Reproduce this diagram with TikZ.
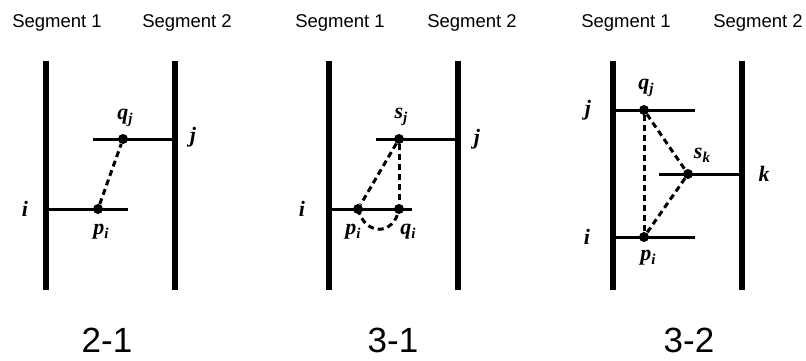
\documentclass[tikz,border=0pt]{standalone}
\usepackage{fontspec}
\setmainfont{Liberation Sans}
\newfontfamily\labfont{Liberation Serif}
\newcommand\lbl[2]{#1\raisebox{-0.4ex}{\fontsize{15}{15}\selectfont #2}}
\tikzset{
  bar/.style={line width=6.5pt},
  rung/.style={line width=3pt},
  link/.style={line width=3pt, dash pattern=on 6pt off 4pt},
  pt/.style={circle, fill=black, inner sep=0pt, minimum size=10pt},
  lab/.style={font=\labfont\bfseries\itshape\fontsize{22}{22}\selectfont, inner sep=0pt},
  seg/.style={font=\fontsize{18.5}{18.5}\selectfont, inner sep=0pt},
  figlabel/.style={font=\fontsize{35}{35}\selectfont, inner sep=0pt}
}
\begin{document}
\begin{tikzpicture}[x=1pt,y=-1pt]
\useasboundingbox (0,0) rectangle (806,361);
% ---------- Panel 2-1 ----------
\node[seg] (s11) at (57,23) {Segment 1};
\node[seg] (s12) at (187,23) {Segment 2};
\coordinate (aLt) at (46,61); \coordinate (aLb) at (46,290);
\coordinate (aRt) at (175,61); \coordinate (aRb) at (175,290);
\draw[bar] (aLt) -- (aLb);
\draw[bar] (aRt) -- (aRb);
\coordinate (aU0) at (93,139); \coordinate (aU1) at (175,139);
\coordinate (aD0) at (46,209); \coordinate (aD1) at (128,209);
\draw[rung] (aU0) -- (aU1);
\draw[rung] (aD0) -- (aD1);
\node[pt] (aq) at (123,139) {};
\node[pt] (ap) at (98,209) {};
\draw[link] (ap) -- (aq);
\node[lab] (aql) at (125,118) {\lbl{q}{j}};
\node[lab] (ajl) at (193,137) {j};
\node[lab] (ail) at (25,209) {i};
\node[lab] (apl) at (101,232) {\lbl{p}{i}};
\node[figlabel] (c1) at (107,340) {2-1};
% ---------- Panel 3-1 ----------
\node[seg] (s21) at (340,23) {Segment 1};
\node[seg] (s22) at (472,23) {Segment 2};
\coordinate (bLt) at (329,61); \coordinate (bLb) at (329,290);
\coordinate (bRt) at (458,61); \coordinate (bRb) at (458,290);
\draw[bar] (bLt) -- (bLb);
\draw[bar] (bRt) -- (bRb);
\coordinate (bU0) at (376,139); \coordinate (bU1) at (458,139);
\coordinate (bD0) at (329,209); \coordinate (bD1) at (412,209);
\draw[rung] (bU0) -- (bU1);
\draw[rung] (bD0) -- (bD1);
\node[pt] (bs) at (399,139) {};
\node[pt] (bp) at (358,209) {};
\node[pt] (bq) at (399,209) {};
\draw[link] (bs) -- (bp);
\draw[link] (bs) -- (bq);
\draw[link] (bp.center) .. controls (365,236) and (394,236) .. (bq.center);
\node[lab] (bsl) at (401,117) {\lbl{s}{j}};
\node[lab] (bjl) at (477,139) {j};
\node[lab] (bil) at (302,209) {i};
\node[lab] (bpl) at (353,232) {\lbl{p}{i}};
\node[lab] (bql) at (408,232) {\lbl{q}{i}};
\node[figlabel] (c2) at (393,340) {3-1};
% ---------- Panel 3-2 ----------
\node[seg] (s31) at (626,23) {Segment 1};
\node[seg] (s32) at (758,23) {Segment 2};
\coordinate (cLt) at (613,61); \coordinate (cLb) at (613,290);
\coordinate (cRt) at (742,61); \coordinate (cRb) at (742,290);
\draw[bar] (cLt) -- (cLb);
\draw[bar] (cRt) -- (cRb);
\coordinate (cJ0) at (613,110); \coordinate (cJ1) at (695,110);
\coordinate (cK0) at (659,174); \coordinate (cK1) at (742,174);
\coordinate (cI0) at (613,237); \coordinate (cI1) at (695,237);
\draw[rung] (cJ0) -- (cJ1);
\draw[rung] (cK0) -- (cK1);
\draw[rung] (cI0) -- (cI1);
\node[pt] (cq) at (644,110) {};
\node[pt] (cs) at (688,174) {};
\node[pt] (cp) at (644,237) {};
\draw[link] (cq) -- (cp);
\draw[link] (cq) -- (cs);
\draw[link] (cs) -- (cp);
\node[lab] (cql) at (646,88) {\lbl{q}{j}};
\node[lab] (cjl) at (588,110) {j};
\node[lab] (csl) at (702,155) {\lbl{s}{k}};
\node[lab] (ckl) at (764,174) {k};
\node[lab] (cil) at (587,237) {i};
\node[lab] (cpl) at (648,258) {\lbl{p}{i}};
\node[figlabel] (c3) at (689,340) {3-2};
\end{tikzpicture}
\end{document}
